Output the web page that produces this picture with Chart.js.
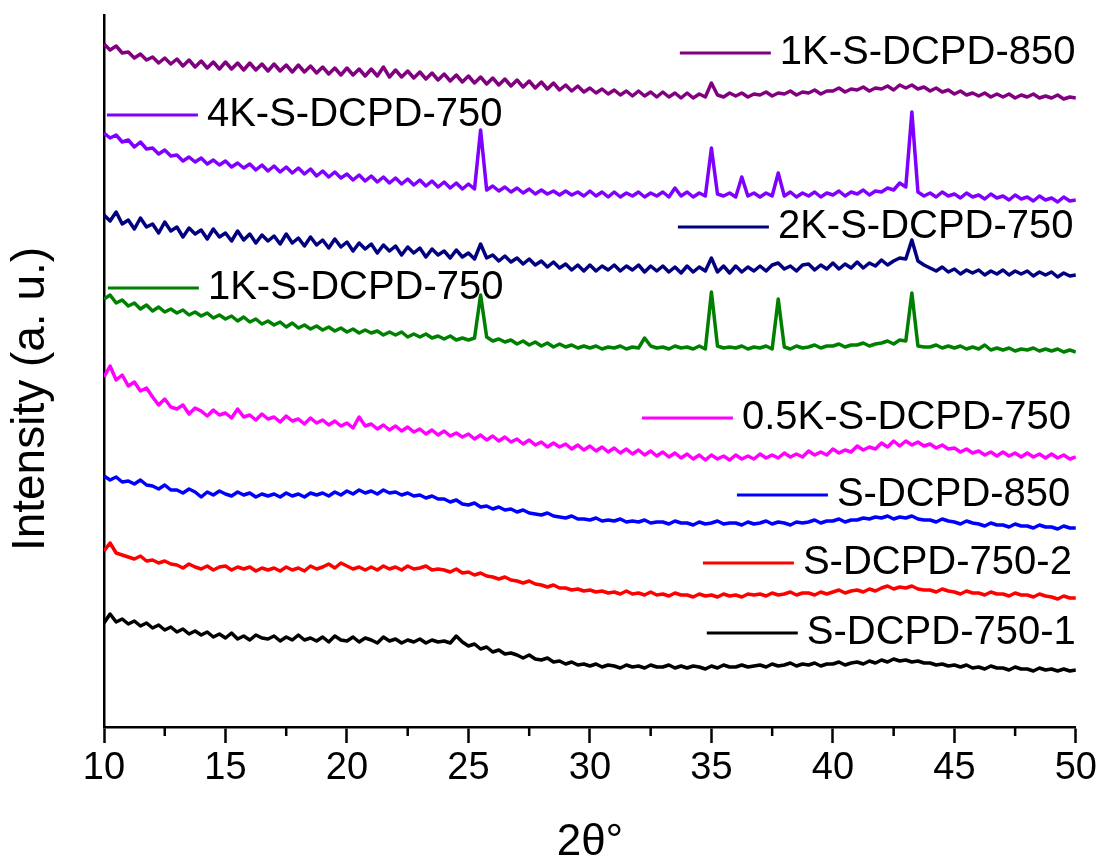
<!DOCTYPE html>
<html>
<head>
<meta charset="utf-8">
<title>XRD patterns</title>
<script src="https://cdn.jsdelivr.net/npm/chart.js@4/dist/chart.umd.min.js"></script>
<style>
  html, body { margin: 0; padding: 0; background: #fff; }
  #wrap { width: 1104px; height: 865px; }
</style>
</head>
<body>
<div id="wrap"><canvas id="xrd" width="1104" height="865"></canvas></div>
<script>
"use strict";

// scan grid: 2θ from 10° to 50°, 0.25° step (161 points)
const twoTheta = Array.from({ length: 161 }, (_, i) => 10 + i * 0.25);

// stacked intensities (a. u.), one row per degree: x.00 x.25 x.50 x.75
const k1_850 = [
  683, 677, 681, 674,  675, 669, 673, 667,  670, 664, 669, 663,  668, 661, 667, 660,
  666, 659, 665, 658,  665, 658, 664, 657,  664, 657, 663, 656,  663, 656, 662, 655,
  662, 655, 661, 654,  660, 653, 659, 652,  659, 652, 658, 651,  658, 651, 660, 650,
  657, 650, 656, 649,  655, 648, 654, 647,  653, 646, 652, 645,  651, 644, 650, 643,
  649, 642, 648, 641,  647, 640, 646, 639,  645, 638, 644, 637,  642, 636, 641, 635,
  639, 634, 638, 633,  637, 632, 636, 631,  636, 631, 635, 630,  635, 630, 634, 629,
  634, 629, 633, 630,  644, 632, 630, 634,  631, 634, 630, 633,  632, 635, 631, 634,
  633, 636, 632, 635,  634, 637, 633, 636,  636, 639, 635, 638,  637, 640, 636, 639,
  638, 641, 637, 642,  639, 642, 638, 640,  636, 639, 635, 637,  633, 636, 632, 634,
  631, 634, 630, 633,  630, 633, 629, 632,  630, 633, 629, 631,  629, 632, 628, 630,
  629
];
const k4_750 = [
  594, 589, 592, 585,  587, 580, 585, 578,  579, 573, 577, 571,  572, 566, 570, 565,
  569, 563, 567, 562,  566, 560, 564, 559,  563, 557, 562, 556,  561, 555, 560, 554,
  559, 553, 558, 551,  556, 550, 555, 549,  553, 547, 552, 546,  551, 545, 550, 544,
  549, 543, 548, 542,  547, 541, 546, 540,  545, 539, 544, 538,  543, 538, 597, 537,
  541, 536, 540, 535,  539, 534, 538, 533,  537, 533, 536, 532,  536, 532, 535, 531,
  536, 531, 535, 530,  535, 530, 534, 531,  535, 530, 534, 531,  535, 530, 539, 531,
  535, 530, 534, 531,  579, 533, 531, 534,  530, 550, 531, 534,  530, 534, 531, 554,
  531, 535, 530, 534,  531, 535, 530, 534,  532, 536, 531, 535,  533, 537, 532, 536,
  535, 539, 537, 544,  540, 615, 535, 531,  534, 530, 535, 531,  533, 529, 534, 530,
  532, 528, 533, 529,  531, 527, 532, 528,  530, 526, 531, 527,  529, 525, 530, 526,
  527
];
const k2_750 = [
  512, 506, 515, 503,  507, 498, 509, 500,  503, 494, 505, 496,  500, 490, 499, 493,
  497, 488, 498, 490,  494, 486, 496, 487,  493, 484, 492, 486,  491, 483, 493, 484,
  489, 481, 490, 482,  487, 479, 488, 480,  485, 476, 484, 478,  483, 474, 482, 476,
  481, 472, 480, 474,  479, 470, 478, 472,  476, 469, 477, 470,  474, 468, 483, 469,
  472, 466, 471, 465,  469, 463, 468, 462,  466, 460, 465, 459,  463, 457, 462, 456,
  462, 456, 461, 457,  462, 456, 461, 457,  462, 455, 461, 456,  461, 455, 460, 454,
  461, 455, 460, 456,  469, 455, 461, 454,  461, 455, 460, 456,  461, 456, 462, 464,
  458, 461, 456, 462,  463, 457, 462, 458,  464, 458, 463, 459,  465, 459, 464, 461,
  467, 462, 466, 469,  468, 487, 466, 462,  459, 456, 460, 455,  458, 453, 457, 454,
  457, 452, 456, 453,  457, 452, 456, 453,  456, 451, 455, 452,  455, 450, 454, 451,
  452
];
const k1_750 = [
  428, 432, 424, 427,  421, 424, 418, 422,  416, 420, 415, 418,  414, 417, 412, 415,
  411, 414, 409, 412,  408, 411, 406, 410,  405, 408, 403, 406,  402, 405, 400, 404,
  399, 402, 398, 401,  397, 400, 396, 399,  395, 398, 394, 397,  394, 396, 392, 395,
  392, 395, 390, 393,  390, 393, 389, 391,  388, 391, 387, 389,  387, 389, 432, 390,
  386, 388, 385, 387,  383, 386, 382, 385,  381, 384, 380, 383,  380, 382, 379, 381,
  379, 381, 378, 380,  379, 381, 378, 380,  379, 389, 381, 379,  380, 378, 381, 379,
  380, 378, 381, 378,  435, 381, 379, 380,  379, 381, 378, 380,  379, 381, 378, 428,
  380, 378, 381, 379,  380, 382, 379, 381,  381, 383, 380, 382,  382, 384, 381, 383,
  384, 386, 383, 387,  386, 434, 381, 380,  380, 382, 379, 381,  379, 381, 378, 380,
  378, 382, 377, 379,  377, 379, 376, 378,  377, 379, 376, 378,  376, 378, 375, 377,
  375
];
const k05_750 = [
  350, 361, 347, 352,  341, 345, 336, 339,  330, 322, 328, 320,  318, 322, 313, 319,
  316, 311, 317, 312,  314, 309, 318, 310,  312, 307, 313, 308,  310, 305, 311, 306,
  308, 303, 309, 304,  307, 302, 306, 301,  304, 299, 310, 301,  303, 298, 302, 297,
  301, 296, 300, 295,  298, 293, 297, 292,  296, 291, 294, 290,  293, 288, 292, 287,
  291, 286, 290, 285,  288, 283, 287, 282,  285, 280, 284, 280,  283, 278, 282, 277,
  281, 276, 280, 275,  279, 274, 278, 273,  277, 272, 276, 271,  275, 270, 274, 269,
  273, 268, 272, 267,  272, 268, 271, 267,  272, 268, 271, 268,  273, 269, 272, 269,
  274, 270, 273, 270,  276, 272, 275, 272,  278, 274, 277, 275,  281, 277, 280, 278,
  284, 280, 286, 281,  286, 282, 285, 281,  283, 279, 282, 278,  279, 275, 278, 274,
  276, 272, 275, 271,  275, 271, 274, 270,  274, 270, 273, 269,  273, 269, 272, 268,
  270
];
const s850 = [
  251, 247, 250, 245,  246, 243, 247, 242,  241, 238, 242, 237,  237, 234, 238, 235,
  230, 235, 232, 236,  233, 231, 235, 232,  234, 230, 233, 231,  233, 230, 234, 231,
  233, 230, 234, 232,  234, 231, 235, 232,  236, 233, 237, 234,  236, 233, 237, 234,
  235, 232, 234, 231,  232, 229, 231, 228,  228, 225, 227, 223,  222, 224, 220, 221,
  218, 220, 217, 218,  215, 217, 214, 213,  212, 214, 211, 210,  209, 211, 208, 208,
  207, 209, 206, 207,  206, 208, 205, 206,  205, 207, 204, 205,  205, 203, 206, 204,
  204, 202, 205, 203,  204, 206, 203, 204,  204, 202, 205, 203,  204, 206, 203, 205,
  204, 202, 205, 204,  205, 207, 204, 206,  206, 208, 205, 207,  207, 209, 208, 210,
  209, 211, 208, 210,  209, 211, 208, 207,  207, 205, 208, 206,  205, 203, 206, 204,
  203, 201, 204, 202,  202, 200, 203, 201,  201, 199, 202, 200,  200, 198, 201, 199,
  199
];
const s750_2 = [
  176, 184, 174, 172,  170, 168, 171, 166,  167, 164, 166, 163,  162, 159, 163, 160,
  158, 161, 157, 160,  161, 157, 160, 158,  160, 156, 159, 157,  159, 156, 160, 157,
  159, 156, 161, 158,  160, 163, 159, 164,  161, 158, 160, 157,  160, 157, 161, 158,
  160, 157, 161, 158,  159, 161, 157, 158,  157, 155, 158, 154,  155, 152, 154, 151,
  150, 148, 150, 147,  146, 144, 146, 143,  142, 140, 142, 139,  139, 137, 138, 136,
  137, 135, 136, 134,  135, 133, 136, 133,  134, 132, 135, 132,  133, 131, 134, 132,
  132, 130, 133, 131,  132, 130, 133, 131,  132, 130, 133, 132,  133, 131, 134, 132,
  133, 135, 132, 134,  134, 132, 135, 133,  135, 137, 134, 136,  137, 135, 138, 136,
  139, 141, 138, 140,  139, 141, 138, 137,  137, 135, 138, 136,  135, 133, 136, 134,
  134, 132, 135, 133,  133, 131, 134, 132,  132, 130, 133, 131,  130, 128, 131, 129,
  129
];
const s750_1 = [
  104, 113, 105, 108,  103, 106, 101, 104,   99, 102,  97, 100,   95,  98,  93,  96,
   92,  95,  90,  93,   89,  94,  88,  91,   87,  92,  89,  88,   91,  86,  90,  87,
   92,  87,  89,  86,   90,  85,  91,  87,   86,  90,  85,  89,   87,  84,  90,  86,
   88,  84,  87,  85,   88,  84,  87,  85,   86,  84,  91,  85,   81,  83,  78,  80,
   75,  77,  73,  74,   72,  69,  72,  68,   67,  69,  65,  66,   63,  65,  62,  63,
   61,  63,  60,  62,   61,  59,  62,  60,   61,  59,  62,  60,   60,  62,  59,  61,
   59,  61,  60,  58,   61,  59,  62,  60,   60,  62,  60,  61,   62,  60,  63,  61,
   62,  64,  61,  63,   62,  64,  61,  63,   63,  65,  62,  64,   65,  63,  66,  64,
   67,  65,  68,  66,   67,  65,  66,  64,   64,  62,  63,  61,   62,  60,  62,  59,
   60,  58,  61,  59,   59,  57,  60,  58,   58,  56,  59,  57,   58,  56,  58,  56,
   57
];

const seriesNames = [
  "1K-S-DCPD-850", "4K-S-DCPD-750", "2K-S-DCPD-750", "1K-S-DCPD-750",
  "0.5K-S-DCPD-750", "S-DCPD-850", "S-DCPD-750-2", "S-DCPD-750-1"
];
const seriesValues = [k1_850, k4_750, k2_750, k1_750, k05_750, s850, s750_2, s750_1];
const seriesColors = ["#800080", "#8000ff", "#000080", "#008000", "#ff00ff", "#0000ff", "#ff0000", "#000000"];

// where each curve label starts (2θ, a. u.)
const labelAnchors = [
  { x: 33.70, y: 674 }, { x: 10.12, y: 612 }, { x: 33.62, y: 500 }, { x: 10.16, y: 439 },
  { x: 32.14, y: 309 }, { x: 36.05, y: 232 }, { x: 34.65, y: 164 }, { x: 34.81, y: 94 }
];

const xMajorTicks = [10, 15, 20, 25, 30, 35, 40, 45, 50];

const FONT = "'Liberation Sans', Arial, Helvetica, sans-serif";
Chart.defaults.font.family = FONT;
Chart.defaults.color = "#000";

// short minor ticks halfway between the labelled ones
const minorTicks = {
  id: "minorTicks",
  afterDraw(chart) {
    const { ctx, chartArea, scales: { x } } = chart;
    ctx.save();
    ctx.strokeStyle = "#000";
    ctx.lineWidth = 2.5;
    ctx.beginPath();
    for (let i = 0; i < xMajorTicks.length - 1; i++) {
      const px = x.getPixelForValue((xMajorTicks[i] + xMajorTicks[i + 1]) / 2);
      ctx.moveTo(px, chartArea.bottom);
      ctx.lineTo(px, chartArea.bottom + 9);
    }
    ctx.stroke();
    ctx.restore();
  }
};

// rotated y-axis title
const yTitle = {
  id: "yTitle",
  afterDraw(chart) {
    const { ctx } = chart;
    ctx.save();
    ctx.translate(31, 399);
    ctx.rotate(-Math.PI / 2);
    ctx.font = "46px " + FONT;
    ctx.fillStyle = "#000";
    ctx.textAlign = "center";
    ctx.textBaseline = "middle";
    ctx.fillText("Intensity (a. u.)", 0, 0);
    ctx.restore();
  }
};

// coloured dash + sample name next to each curve
const curveLabels = {
  id: "curveLabels",
  afterDatasetsDraw(chart) {
    const { ctx, scales: { x, y } } = chart;
    ctx.save();
    ctx.font = "40px " + FONT;
    ctx.textAlign = "left";
    ctx.textBaseline = "middle";
    labelAnchors.forEach((a, i) => {
      const px = x.getPixelForValue(a.x);
      const py = y.getPixelForValue(a.y);
      ctx.strokeStyle = seriesColors[i];
      ctx.lineWidth = 3;
      ctx.beginPath();
      ctx.moveTo(px, py);
      ctx.lineTo(px + 91, py);
      ctx.stroke();
      ctx.fillStyle = "#000";
      ctx.fillText(seriesNames[i], px + 100, py);
    });
    ctx.restore();
  }
};

new Chart(document.getElementById("xrd"), {
  type: "line",
  data: {
    datasets: seriesNames.map((name, i) => ({
      label: name,
      data: twoTheta.map((t, j) => ({ x: t, y: seriesValues[i][j] })),
      borderColor: seriesColors[i],
      borderWidth: 3.5,
      borderJoinStyle: "round",
      pointRadius: 0,
      tension: 0,
      fill: false
    }))
  },
  options: {
    responsive: false,
    animation: false,
    devicePixelRatio: 1,
    layout: { padding: { top: 15, right: 28, left: 0, bottom: 0 } },
    plugins: { legend: { display: false }, tooltip: { enabled: false } },
    scales: {
      x: {
        type: "linear",
        min: 10,
        max: 50,
        afterBuildTicks: s => { s.ticks = xMajorTicks.map(v => ({ value: v })); },
        ticks: { color: "#000", font: { size: 38, lineHeight: 1 }, padding: 7, maxRotation: 0, autoSkip: false },
        grid: { drawOnChartArea: false, drawTicks: true, tickLength: 16, tickWidth: 2.5, tickColor: "#000" },
        border: { display: true, color: "#000", width: 2.5 },
        title: { display: true, text: "2θ°", color: "#000", font: { size: 44, lineHeight: 1 }, padding: { top: 0, bottom: 0 } },
        afterFit: s => { s.height = 138; }
      },
      y: {
        min: 0,
        max: 712,
        ticks: { display: false },
        grid: { display: false },
        border: { display: true, color: "#000", width: 2.5 },
        afterFit: s => { s.width = 104; }
      }
    }
  },
  plugins: [minorTicks, yTitle, curveLabels]
});
</script>
</body>
</html>
